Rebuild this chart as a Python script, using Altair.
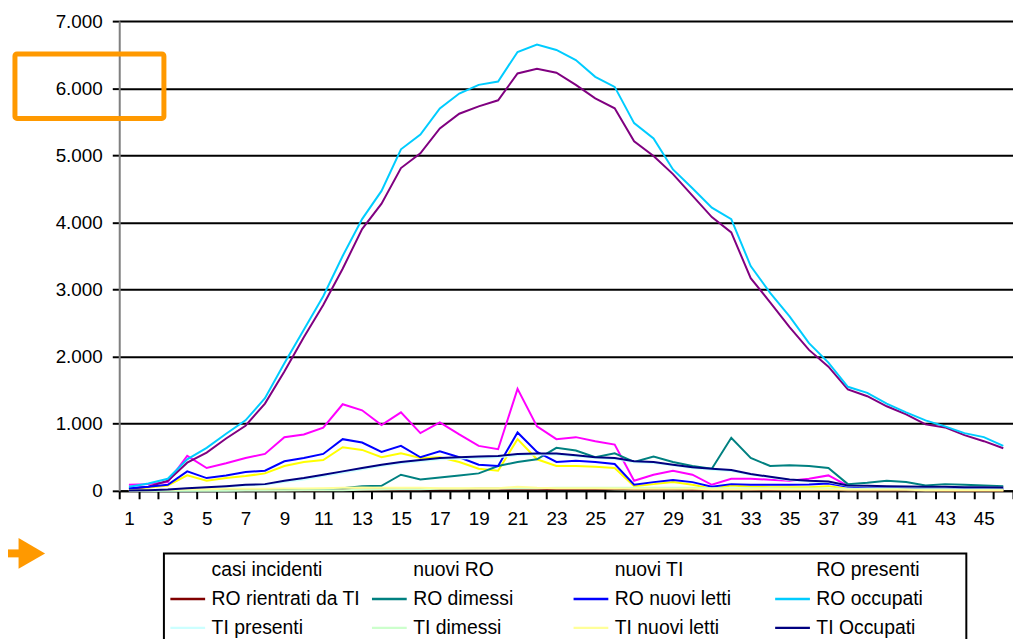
import altair as alt
import pandas as pd

giorni = list(range(1, 47))

serie = ["casi incidenti", "nuovi RO", "nuovi TI", "RO presenti",
         "RO rientrati da TI", "RO dimessi", "RO nuovi letti", "RO occupati",
         "TI presenti", "TI dimessi", "TI nuovi letti", "TI Occupati"]

casi_incidenti = [90, 100, 130, 520, 340, 410, 490, 550, 800, 840, 940, 1290, 1200, 980, 1170, 860,
                  1020, 840, 670, 620, 1520, 960, 770, 800, 740, 690, 150, 240, 300, 240, 90, 180,
                  180, 165, 150, 180, 230, 75, 60, 55, 50, 45, 40, 35, 30, 25]
nuovi_ro = [30, 50, 80, 230, 150, 190, 220, 260, 370, 430, 460, 650, 610, 500, 560, 490,
            500, 430, 330, 300, 770, 470, 370, 370, 360, 340, 70, 100, 130, 90, 30, 80,
            60, 55, 55, 55, 70, 30, 20, 20, 15, 15, 10, 10, 10, 10]
nuovi_ti = [5, 5, 10, 15, 15, 20, 20, 20, 25, 25, 30, 30, 35, 30, 30, 30,
            30, 30, 30, 30, 40, 30, 30, 30, 30, 25, 20, 20, 20, 20, 15, 15,
            15, 15, 15, 15, 15, 10, 10, 10, 10, 5, 5, 5, 5, 5]
ro_presenti = [30, 60, 150, 420, 570, 780, 970, 1300, 1780, 2290, 2770, 3310, 3900, 4280, 4810, 5030,
               5400, 5620, 5730, 5820, 6220, 6290, 6230, 6050, 5850, 5700, 5210, 4990, 4720, 4400, 4080, 3850,
               3170, 2810, 2440, 2100, 1850, 1510, 1410, 1260, 1140, 990, 945, 830, 740, 635]
ro_rientrati = [0, 0, 0, 0, 0, 5, 5, 5, 10, 10, 10, 15, 15, 20, 20, 25,
                25, 25, 30, 30, 30, 30, 30, 30, 30, 30, 25, 25, 25, 20, 20, 20,
                20, 15, 15, 15, 15, 10, 10, 10, 10, 10, 5, 5, 5, 5]
ro_dimessi = [0, 0, 0, 0, 5, 5, 10, 10, 15, 20, 25, 40, 70, 75, 240, 170,
              200, 230, 260, 370, 430, 470, 640, 600, 500, 560, 430, 510, 430, 370, 330, 790,
              490, 370, 380, 370, 340, 100, 120, 150, 130, 80, 100, 90, 80, 70]
ro_nuovi_letti = [40, 60, 90, 290, 190, 230, 280, 300, 440, 490, 550, 770, 720, 580, 670, 500,
                  590, 500, 390, 370, 870, 580, 430, 450, 430, 400, 90, 130, 160, 130, 60, 100,
                  90, 90, 90, 95, 110, 60, 50, 50, 45, 40, 40, 35, 35, 30]
ro_occupati = [60, 110, 180, 470, 640, 850, 1050, 1380, 1900, 2400, 2900, 3500, 4050, 4470, 5090, 5310,
               5700, 5920, 6050, 6100, 6540, 6650, 6570, 6420, 6170, 6020, 5480, 5250, 4790, 4510, 4220, 4050,
               3350, 2950, 2600, 2200, 1910, 1550, 1460, 1300, 1170, 1050, 960, 860, 800, 670]
ti_presenti = [0, 5, 15, 30, 45, 60, 80, 90, 130, 170, 220, 270, 320, 370, 410, 440,
               470, 480, 490, 500, 530, 540, 540, 515, 490, 475, 425, 415, 380, 340, 315, 295,
               240, 200, 160, 140, 130, 75, 70, 65, 60, 55, 55, 50, 50, 45]
ti_dimessi = [0, 0, 0, 0, 0, 0, 5, 5, 5, 10, 10, 10, 15, 20, 25, 25,
              30, 30, 35, 35, 40, 40, 45, 45, 45, 45, 45, 45, 45, 45, 40, 40,
              40, 40, 35, 35, 35, 30, 30, 30, 25, 25, 25, 20, 20, 20]
ti_nuovi_letti = [5, 10, 15, 25, 25, 30, 30, 30, 35, 35, 40, 45, 50, 45, 45, 45,
                  40, 40, 40, 40, 60, 45, 40, 40, 40, 35, 30, 30, 30, 30, 25, 25,
                  25, 25, 20, 20, 20, 15, 15, 15, 15, 10, 10, 10, 10, 10]
ti_occupati = [5, 10, 20, 40, 55, 70, 90, 100, 150, 190, 240, 290, 340, 390, 430, 460,
               490, 500, 510, 520, 550, 555, 555, 530, 500, 490, 440, 430, 390, 350, 330, 310,
               250, 210, 170, 150, 140, 80, 75, 70, 65, 60, 60, 55, 55, 50]

valori = [casi_incidenti, nuovi_ro, nuovi_ti, ro_presenti, ro_rientrati, ro_dimessi,
          ro_nuovi_letti, ro_occupati, ti_presenti, ti_dimessi, ti_nuovi_letti, ti_occupati]

colori_linee = ["#FF00FF", "#FFFF00", "#FFFFCC", "#800080", "#800000", "#008080",
                "#0000FF", "#00CCFF", "#CCFFFF", "#CCFFCC", "#FFFF99", "#000080"]
colori_legenda = ["#FFFFFF"] * 4 + colori_linee[4:]

righe = []
for k, (nome, vals) in enumerate(zip(serie, valori)):
    for g, v in zip(giorni, vals):
        righe.append({"giorno": g, "serie": nome, "valore": v, "ordine": k})
df = pd.DataFrame(righe)

FONT = "Liberation Sans"
ORANGE = "#FF9900"

x_enc = alt.X("giorno:O", scale=alt.Scale(type="band", paddingInner=0, paddingOuter=0),
              axis=alt.Axis(title=None, labelAngle=0, tickBand="extent",
                            labelExpr="datum.value % 2 == 1 ? datum.label : ''",
                            domainColor="#000000", domainWidth=2, tickColor="#000000",
                            tickWidth=2, tickSize=8, labelPadding=11, labelFontSize=19,
                            labelFont=FONT, labelColor="#000000", grid=False))
y_enc = alt.Y("valore:Q", scale=alt.Scale(domain=[0, 7000], nice=False),
              axis=alt.Axis(title=None, values=list(range(0, 7001, 1000)),
                            labelExpr="replace(format(datum.value, ','), ',', '.')",
                            grid=True, gridColor="#000000", gridWidth=2,
                            domainColor="#808080", domainWidth=2, tickColor="#000000",
                            tickWidth=2, tickSize=7, labelPadding=10, labelFontSize=19,
                            labelFont=FONT, labelColor="#000000"))

# lines: stroke scale (domain listed in reverse so it is not merged with the legend scale)
linee = alt.Chart(df).mark_line(strokeWidth=2).encode(
    x=x_enc, y=y_enc,
    stroke=alt.Stroke("serie:N", scale=alt.Scale(domain=serie[::-1], range=colori_linee[::-1]),
                      legend=None),
    order="ordine:Q",
)

legenda = alt.Chart(df).mark_line(opacity=0).encode(
    x=alt.X("giorno:O", scale=alt.Scale(type="band", paddingInner=0, paddingOuter=0)),
    y=alt.Y("valore:Q"),
    color=alt.Color("serie:N", scale=alt.Scale(domain=serie, range=colori_legenda),
                    legend=alt.Legend(orient="none", legendX=50, legendY=534,
                                      direction="horizontal", columns=4, title=None,
                                      symbolType="stroke", symbolSize=1225, symbolStrokeWidth=2.5,
                                      symbolOpacity=1,
                                      labelFontSize=19.5, labelFont=FONT, labelColor="#000000",
                                      labelOffset=5, labelLimit=300, gridAlign="all",
                                      columnPadding=6, rowPadding=0, padding=0)),
)

ann = pd.DataFrame({"a": [0]})
cornice = alt.Chart(ann).mark_rect(filled=False, stroke="#000000", strokeWidth=2).encode(
    x=alt.value(45), x2=alt.value(853), y=alt.value(536), y2=alt.value(628)
)
riquadro = alt.Chart(ann).mark_rect(filled=False, stroke=ORANGE, strokeWidth=5, cornerRadius=2).encode(
    x=alt.value(-105), x2=alt.value(45), y=alt.datum(6510), y2=alt.datum(5550)
)
asta = alt.Chart(ann).mark_rule(color=ORANGE, strokeWidth=8).encode(
    x=alt.value(-112), x2=alt.value(-92), y=alt.value(536)
)
punta = alt.Chart(ann).mark_point(shape="triangle-right", filled=True, color=ORANGE,
                                  size=950, opacity=1).encode(
    x=alt.value(-88), y=alt.value(536)
)

chart = alt.layer(linee, legenda, cornice, riquadro, asta, punta).properties(
    width=900, height=473,
    autosize=alt.AutoSizeParams(type="none"),
    padding={"left": 112, "top": 11, "right": 0, "bottom": 147},
).configure_view(stroke=None).configure(background="#FFFFFF")

chart.save("out.html", embed_options={"renderer": "svg", "actions": False})
